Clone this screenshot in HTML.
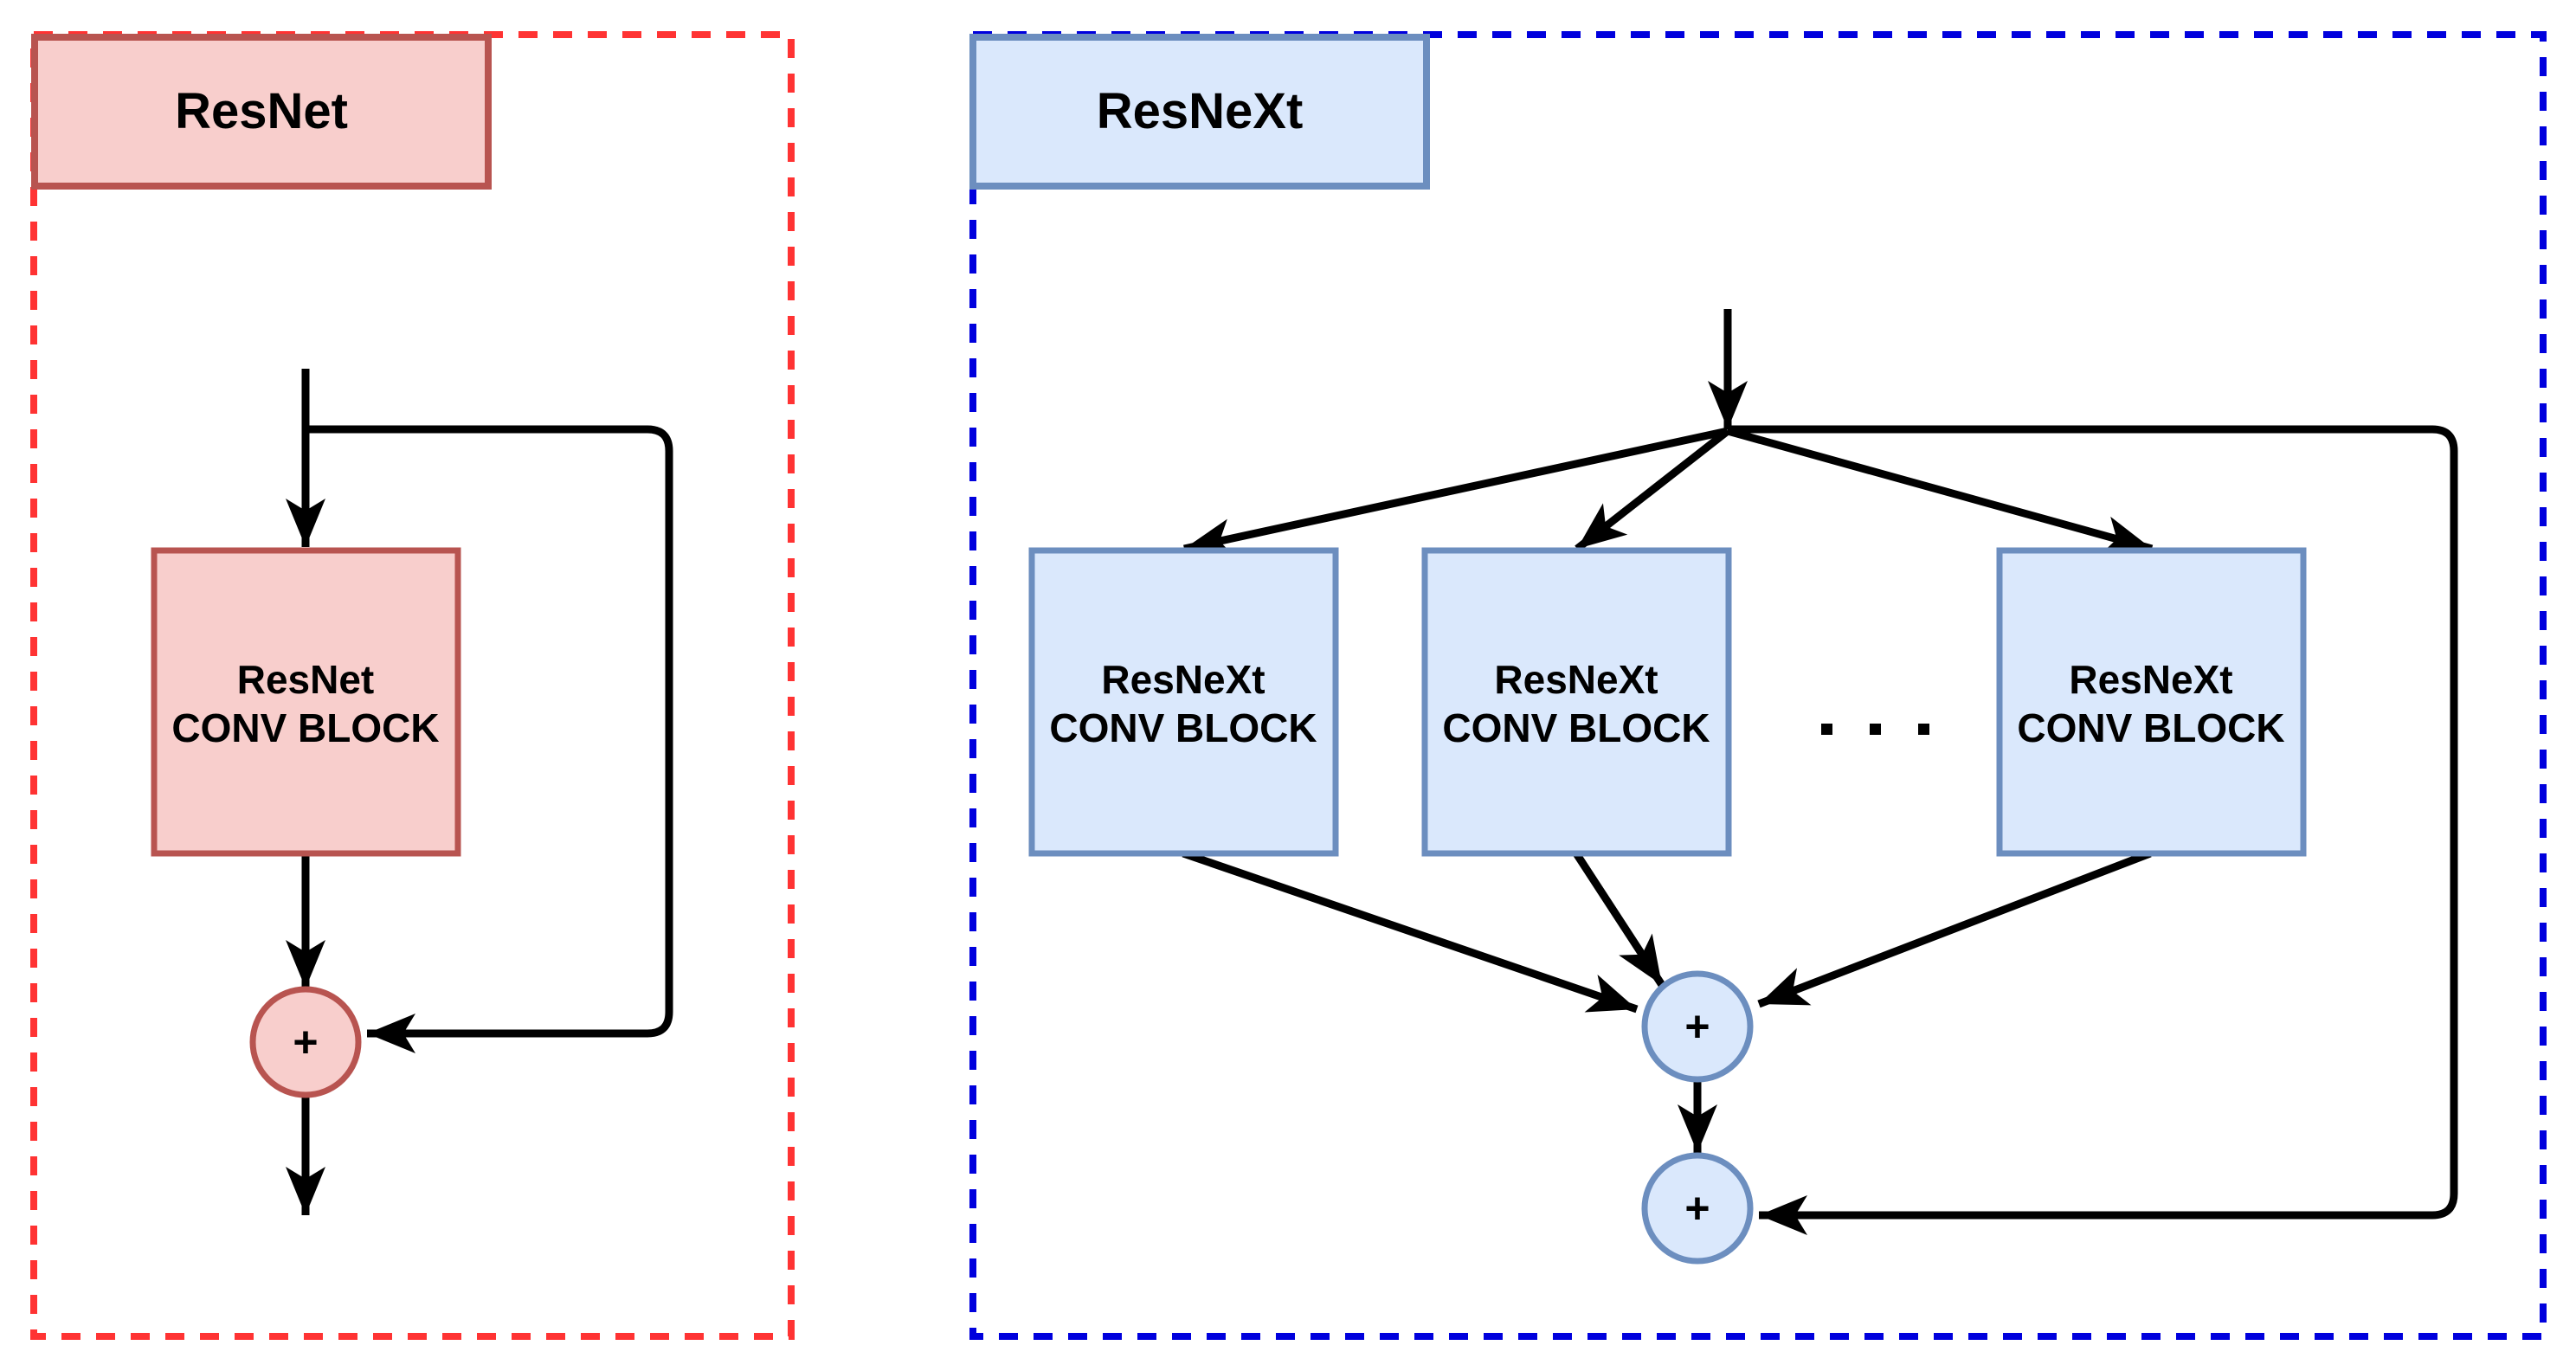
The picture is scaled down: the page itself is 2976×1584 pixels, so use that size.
<!DOCTYPE html>
<html><head><meta charset="utf-8"><style>body{margin:0;background:#fff}svg{display:block}</style></head><body>
<svg width="2976" height="1584" viewBox="0 0 2976 1584" xmlns="http://www.w3.org/2000/svg" font-family="Liberation Sans, sans-serif" font-weight="bold">
<defs>
<marker id="a" markerUnits="userSpaceOnUse" markerWidth="70" markerHeight="70" viewBox="0 0 70 70" refX="56" refY="35" orient="auto">
<path d="M0,12 L56,35 L0,58 L14,35 Z" fill="#000"/>
</marker>
</defs>
<rect x="39" y="40" width="875" height="1504" fill="none" stroke="#ff3333" stroke-width="8" stroke-dasharray="22 18"/>
<rect x="1124" y="40" width="1814" height="1504" fill="none" stroke="#0000dd" stroke-width="8" stroke-dasharray="22 18"/>
<rect x="40" y="43" width="524" height="172" fill="#f8cecc" stroke="#b85450" stroke-width="8"/>
<text x="302" y="148" font-size="58" text-anchor="middle">ResNet</text>
<rect x="1124" y="43" width="524" height="172" fill="#dae8fc" stroke="#6c8ebf" stroke-width="8"/>
<text x="1386" y="148" font-size="58" text-anchor="middle">ResNeXt</text>
<g fill="none" stroke="#000" stroke-width="9">
<path d="M353,426 V632" marker-end="url(#a)"/>
<path d="M353,496 H748 Q773,496 773,521 V1169 Q773,1194 748,1194 H424" marker-end="url(#a)"/>
<path d="M353,986 V1142" marker-end="url(#a)"/>
<path d="M353,1267 V1404" marker-end="url(#a)"/>
<path d="M1996,357 V496" marker-end="url(#a)"/>
<path d="M1996,496 H2810 Q2835,496 2835,521 V1379 Q2835,1404 2810,1404 H2032" marker-end="url(#a)"/>
<path d="M1996,498 L1368,634" marker-end="url(#a)"/>
<path d="M1996,498 L1822,634" marker-end="url(#a)"/>
<path d="M1996,498 L2486,634" marker-end="url(#a)"/>
<path d="M1367,986 L1891,1166" marker-end="url(#a)"/>
<path d="M1821,986 L1920,1138" marker-end="url(#a)"/>
<path d="M2484,986 L2032,1160" marker-end="url(#a)"/>
<path d="M1961,1248 V1332" marker-end="url(#a)"/>
</g>
<rect x="178" y="636" width="351" height="350" fill="#f8cecc" stroke="#b85450" stroke-width="7"/>
<text x="353" y="801" font-size="46" text-anchor="middle">ResNet</text>
<text x="353" y="857" font-size="46" text-anchor="middle">CONV BLOCK</text>
<g fill="#dae8fc" stroke="#6c8ebf" stroke-width="7">
<rect x="1192" y="636" width="351" height="350"/>
<rect x="1646" y="636" width="351" height="350"/>
<rect x="2310" y="636" width="351" height="350"/>
</g>
<g font-size="46" text-anchor="middle">
<text x="1367" y="801">ResNeXt</text><text x="1367" y="857">CONV BLOCK</text>
<text x="1821" y="801">ResNeXt</text><text x="1821" y="857">CONV BLOCK</text>
<text x="2485" y="801">ResNeXt</text><text x="2485" y="857">CONV BLOCK</text>
</g>
<g fill="#000"><rect x="2104" y="836" width="13" height="13"/><rect x="2160" y="836" width="13" height="13"/><rect x="2216" y="836" width="13" height="13"/></g>
<circle cx="353" cy="1204" r="61" fill="#f8cecc" stroke="#b85450" stroke-width="7"/>
<circle cx="1961" cy="1186" r="61" fill="#dae8fc" stroke="#6c8ebf" stroke-width="7"/>
<circle cx="1961" cy="1396" r="61" fill="#dae8fc" stroke="#6c8ebf" stroke-width="7"/>
<g font-size="50" text-anchor="middle">
<text x="353" y="1221">+</text><text x="1961" y="1203">+</text><text x="1961" y="1413">+</text>
</g>
</svg>
</body></html>
